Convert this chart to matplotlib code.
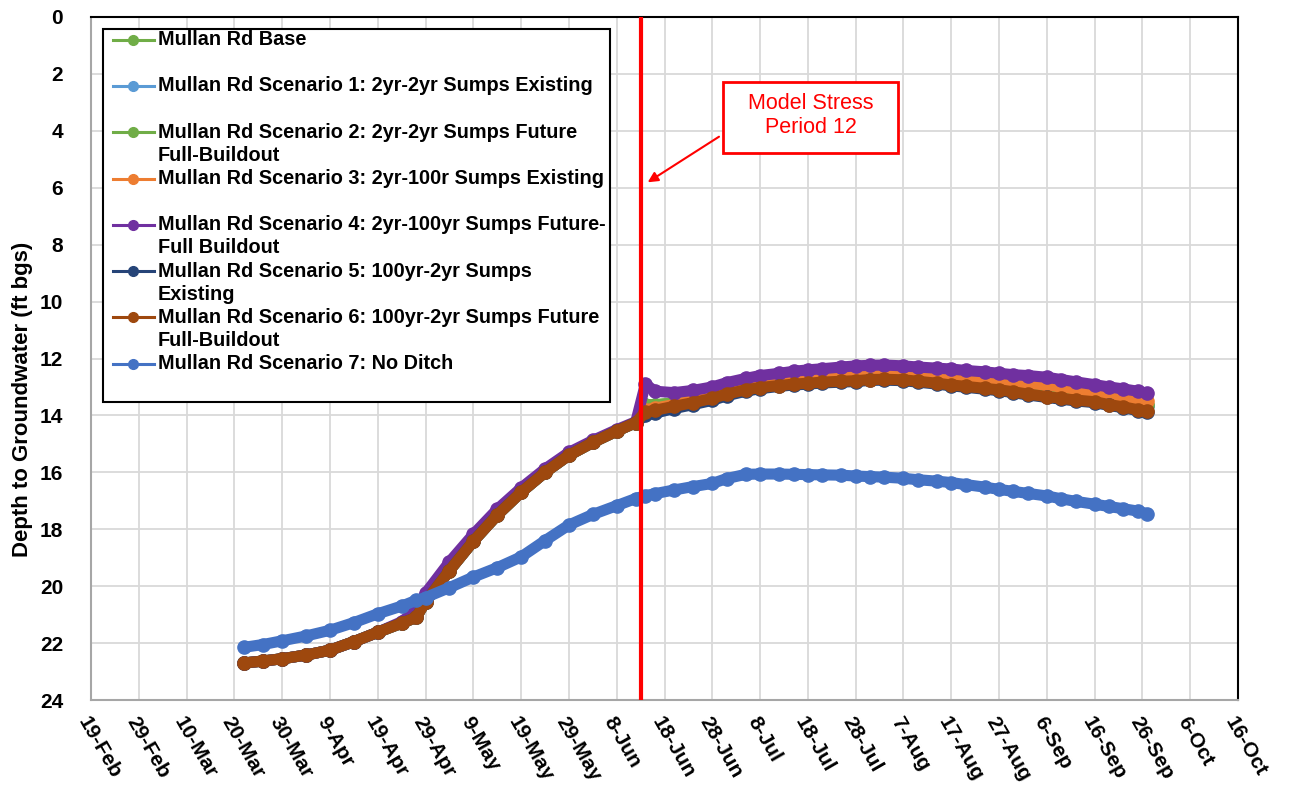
import datetime as dt
import matplotlib
matplotlib.use("Agg")
import matplotlib.pyplot as plt
from matplotlib.lines import Line2D
from matplotlib.patches import Rectangle

plt.rcParams["font.family"] = ["Liberation Sans", "DejaVu Sans"]

# dates of the simulated heads (2020), before and after stress period 12
pre_dates = ["2020-03-22", "2020-03-26", "2020-03-30", "2020-04-04", "2020-04-09",
             "2020-04-14", "2020-04-19", "2020-04-24", "2020-04-27", "2020-04-29",
             "2020-05-04", "2020-05-09", "2020-05-14", "2020-05-19", "2020-05-24",
             "2020-05-29", "2020-06-03", "2020-06-08", "2020-06-12"]
post_dates = ["2020-06-14", "2020-06-16", "2020-06-20", "2020-06-24", "2020-06-28",
              "2020-07-01", "2020-07-05", "2020-07-08", "2020-07-12", "2020-07-15",
              "2020-07-18", "2020-07-21", "2020-07-25", "2020-07-28", "2020-07-31",
              "2020-08-03", "2020-08-07", "2020-08-10", "2020-08-14", "2020-08-17",
              "2020-08-20", "2020-08-24", "2020-08-27", "2020-08-30", "2020-09-02",
              "2020-09-06", "2020-09-09", "2020-09-12", "2020-09-16", "2020-09-19",
              "2020-09-22", "2020-09-25", "2020-09-27"]

# depth to groundwater (ft bgs)
common_pre = [22.70, 22.63, 22.55, 22.42, 22.25, 21.95, 21.62, 21.30, 21.10, 20.55,
              19.45, 18.42, 17.50, 16.70, 16.00, 15.40, 14.95, 14.55, 14.25]
s4_pre = [22.70, 22.63, 22.55, 22.42, 22.25, 21.95, 21.62, 21.25, 20.85, 20.25,
          19.15, 18.18, 17.30, 16.55, 15.88, 15.30, 14.88, 14.50, 14.22]
s7_pre = [22.15, 22.05, 21.92, 21.75, 21.55, 21.28, 20.97, 20.70, 20.50, 20.40,
          20.05, 19.68, 19.35, 18.97, 18.40, 17.85, 17.48, 17.17, 16.92]

base_post = [13.63, 13.63, 13.57, 13.48, 13.36, 13.22, 13.07, 12.99, 12.92, 12.87,
             12.84, 12.80, 12.77, 12.75, 12.71, 12.70, 12.71, 12.75, 12.81, 12.86,
             12.90, 12.96, 13.01, 13.07, 13.14, 13.22, 13.28, 13.34, 13.40, 13.48,
             13.55, 13.61, 13.65]
s1_post = [13.64, 13.64, 13.58, 13.49, 13.37, 13.23, 13.08, 13.00, 12.93, 12.88,
           12.85, 12.81, 12.78, 12.76, 12.72, 12.71, 12.72, 12.76, 12.82, 12.87,
           12.91, 12.97, 13.02, 13.08, 13.15, 13.23, 13.29, 13.35, 13.41, 13.49,
           13.56, 13.62, 13.66]
s2_post = [13.62, 13.62, 13.56, 13.47, 13.35, 13.21, 13.06, 12.98, 12.91, 12.86,
           12.83, 12.79, 12.76, 12.74, 12.70, 12.69, 12.70, 12.74, 12.80, 12.85,
           12.89, 12.95, 13.00, 13.06, 13.13, 13.21, 13.27, 13.33, 13.39, 13.47,
           13.54, 13.60, 13.64]
s3_post = [13.80, 13.74, 13.62, 13.48, 13.33, 13.17, 13.01, 12.92, 12.84, 12.78,
           12.74, 12.70, 12.66, 12.63, 12.60, 12.58, 12.59, 12.62, 12.65, 12.68,
           12.71, 12.75, 12.79, 12.83, 12.88, 12.93, 13.00, 13.08, 13.17, 13.26,
           13.34, 13.43, 13.50]
s4_post = [12.90, 13.15, 13.20, 13.12, 13.00, 12.85, 12.70, 12.60, 12.52, 12.45,
           12.40, 12.36, 12.30, 12.26, 12.24, 12.23, 12.26, 12.30, 12.34, 12.37,
           12.42, 12.47, 12.52, 12.57, 12.60, 12.66, 12.74, 12.82, 12.92, 13.00,
           13.07, 13.15, 13.22]
s5_post = [14.00, 13.92, 13.76, 13.62, 13.47, 13.31, 13.15, 13.06, 12.98, 12.93,
           12.90, 12.86, 12.83, 12.81, 12.77, 12.76, 12.78, 12.83, 12.90, 12.96,
           13.01, 13.08, 13.13, 13.20, 13.28, 13.37, 13.43, 13.49, 13.55, 13.65,
           13.73, 13.83, 13.89]
s6_post = [13.88, 13.82, 13.68, 13.55, 13.40, 13.25, 13.10, 13.02, 12.95, 12.90,
           12.87, 12.83, 12.80, 12.78, 12.74, 12.73, 12.75, 12.80, 12.87, 12.93,
           12.98, 13.05, 13.10, 13.17, 13.25, 13.34, 13.40, 13.46, 13.52, 13.62,
           13.70, 13.80, 13.86]
s7_post = [16.82, 16.75, 16.62, 16.50, 16.39, 16.22, 16.07, 16.06, 16.06, 16.07,
           16.08, 16.09, 16.10, 16.13, 16.15, 16.17, 16.21, 16.26, 16.31, 16.36,
           16.43, 16.52, 16.60, 16.67, 16.74, 16.83, 16.93, 17.02, 17.12, 17.20,
           17.28, 17.36, 17.46]

labels = ["Mullan Rd Base",
          "Mullan Rd Scenario 1: 2yr-2yr Sumps Existing",
          "Mullan Rd Scenario 2: 2yr-2yr Sumps Future\nFull-Buildout",
          "Mullan Rd Scenario 3: 2yr-100r Sumps Existing",
          "Mullan Rd Scenario 4: 2yr-100yr Sumps Future-\nFull Buildout",
          "Mullan Rd Scenario 5: 100yr-2yr Sumps\nExisting",
          "Mullan Rd Scenario 6: 100yr-2yr Sumps Future\nFull-Buildout",
          "Mullan Rd Scenario 7: No Ditch"]
colors = ["#70AD47", "#5B9BD5", "#70AD47", "#ED7D31", "#7030A0", "#264478", "#9E480E", "#4472C4"]
values = [common_pre + base_post, common_pre + s1_post, common_pre + s2_post,
          common_pre + s3_post, s4_pre + s4_post, common_pre + s5_post,
          common_pre + s6_post, s7_pre + s7_post]

stress_date = "2020-06-13"
x_start = dt.date(2020, 2, 19)
x_end = dt.date(2020, 10, 16)

dates = [dt.datetime.strptime(d, "%Y-%m-%d") for d in pre_dates + post_dates]

fig = plt.figure(figsize=(13.07, 7.95), dpi=100)
ax = fig.add_axes([91 / 1307, 1 - 700 / 795, 1147 / 1307, 683 / 795])

for i, (lab, col, vals) in enumerate(zip(labels, colors, values)):
    ax.plot(dates, vals, color=col, lw=8, marker="o", ms=9.5, zorder=3 + i,
            solid_capstyle="round", solid_joinstyle="round")

ax.axvline(dt.datetime.strptime(stress_date, "%Y-%m-%d"), color="#FF0000", lw=3, zorder=20)

ax.set_xlim(x_start, x_end)
ticks = [x_start + dt.timedelta(days=10 * k) for k in range(25)]
ax.set_xticks(ticks)
ax.set_xticklabels([f"{d.day}-{d.strftime('%b')}" for d in ticks],
                   rotation=-60, ha="left", va="top", rotation_mode="anchor",
                   fontsize=15, fontweight="bold")
ax.set_ylim(24, 0)
ax.set_yticks(range(0, 25, 2))
ax.set_yticklabels([str(v) for v in range(0, 25, 2)], fontsize=15, fontweight="bold")
ax.tick_params(axis="both", length=0)
ax.tick_params(axis="y", pad=20)
ax.tick_params(axis="x", pad=10)
ax.set_ylabel("Depth to Groundwater (ft bgs)", fontsize=16, fontweight="bold")
ax.yaxis.set_label_coords(-0.051, 0.44)
ax.grid(color="#D9D9D9", lw=1.3)
ax.set_axisbelow(True)
for side in ["left", "bottom"]:
    ax.spines[side].set_color("#A6A6A6")
    ax.spines[side].set_linewidth(1.5)
for side in ["top", "right"]:
    ax.spines[side].set_color("black")
    ax.spines[side].set_linewidth(1.5)

# legend box drawn by hand so that every entry takes the same two-line slot
def px2ax(x, y):
    return (x - 91) / 1147, (700 - y) / 683

x0, y0 = px2ax(103, 402)
x1, y1 = px2ax(609.6, 28.5)
ax.add_patch(Rectangle((x0, y0), x1 - x0, y1 - y0, transform=ax.transAxes,
                       facecolor="white", edgecolor="black", lw=1.5, zorder=30))
for i, (lab, col) in enumerate(zip(labels, colors)):
    ypx = 39.6 + 46.3 * i
    lx0, ly = px2ax(113, ypx)
    lx1, _ = px2ax(153.6, ypx)
    mx, _ = px2ax(133.3, ypx)
    ax.add_line(Line2D([lx0, lx1], [ly, ly], transform=ax.transAxes, color=col, lw=2.2, zorder=31))
    ax.add_line(Line2D([mx], [ly], transform=ax.transAxes, color=col, marker="o", ms=7, zorder=32))
    for k, part in enumerate(lab.split("\n")):
        tx, ty = px2ax(157.6, ypx + 23 * k)
        ax.text(tx, ty, part, transform=ax.transAxes, fontsize=14.3, fontweight="bold",
                ha="left", va="center", zorder=33)

# stress period callout
bx0, by0 = px2ax(722.7, 152.7)
bx1, by1 = px2ax(898.3, 82.3)
ax.add_patch(Rectangle((bx0, by0), bx1 - bx0, by1 - by0, transform=ax.transAxes,
                       facecolor="white", edgecolor="#FF0000", lw=2, zorder=30))
tx, ty = px2ax(810.5, 115.3)
ax.text(tx, ty, "Model Stress\nPeriod 12", transform=ax.transAxes, color="#FF0000",
        fontsize=15.5, ha="center", va="center", zorder=31)
ax.annotate("", xy=px2ax(647.7, 182.3), xytext=px2ax(719, 136.7),
            xycoords="axes fraction", textcoords="axes fraction",
            arrowprops=dict(arrowstyle="-|>", color="#FF0000", lw=1.5,
                            mutation_scale=15, shrinkA=0, shrinkB=0), zorder=31)

fig.savefig("out.png", dpi=100)
